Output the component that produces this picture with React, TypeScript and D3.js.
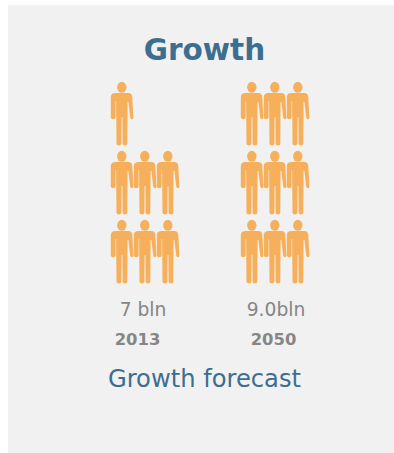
import React from "react";
import * as d3 from "d3";

// Each figure stands for one billion people.
const years = ["2013", "2050"];
const populationBillions = [7, 9];
const valueLabels = ["7 bln", "9.0bln"];
const rowsPerGroup = [0, 1, 2];
const columnsPerRow = [0, 1, 2];

const INK = "#3c6e8f";
const FIGURE = "#f6b05c";
const MUTED = "#868686";
const FONT = "'DejaVu Sans', Verdana, sans-serif";

const WIDTH = 394;
const HEIGHT = 453;

// Person silhouette in a 23 x 64 box, origin at the top left.
const personBody =
  "M4.5 11 L17.5 11 Q21 11 21.3 15 L22.4 35.5 Q22.4 37.2 21 37.2 Q19.4 37.2 19.2 35.5 L17.4 20 L16.6 20 L16.3 61.8 Q16.2 63.6 13.8 63.6 Q11.7 63.6 11.6 61.8 L11.4 35 L10.6 35 L10.4 61.8 Q10.3 63.6 8 63.6 Q5.6 63.6 5.5 61.8 L5.1 19 L4.6 19 L4.6 35.5 Q4.5 37.2 2.2 37.2 Q-0.1 37.2 -0.2 35.5 L-0.2 15 Q0 11 4.5 11 Z";

function Person({ x, y }: { x: number; y: number }) {
  return (
    <g transform={`translate(${x},${y})`} fill={FIGURE}>
      <ellipse cx={10.8} cy={5.3} rx={4.7} ry={5.5} />
      <path d={personBody} />
    </g>
  );
}

export default function App() {
  const groupX = d3.scalePoint<string>().domain(years).range([111, 241]);
  const columnX = d3.scaleLinear().domain([0, 1]).range([0, 23]);
  const rowY = d3.scaleLinear().domain([0, 1]).range([220, 151]);
  const labelX = d3.scalePoint<string>().domain(years).range([143, 276]);
  const yearX = d3.scalePoint<string>().domain(years).range([137.5, 273.5]);

  return (
    <svg
      width={WIDTH}
      height={HEIGHT}
      style={{ position: "absolute", left: 0, top: 0, display: "block" }}
      fontFamily={FONT}
    >
      <rect x={8} y={5} width={386} height={448} fill="#f1f1f1" />
      <text x={204.5} y={60} textAnchor="middle" fontSize={29.5} fontWeight="bold" fill={INK}>
        Growth
      </text>
      {years.map((year, g) => {
        const cells = rowsPerGroup
          .flatMap((row) => columnsPerRow.map((col) => ({ row, col })))
          .slice(0, populationBillions[g]);
        return (
          <g key={year}>
            {cells.map(({ row, col }) => (
              <Person
                key={`${row}-${col}`}
                x={(groupX(year) as number) + columnX(col)}
                y={rowY(row)}
              />
            ))}
            <text
              x={labelX(year)}
              y={316}
              textAnchor="middle"
              fontSize={18.7}
              fill={MUTED}
            >
              {valueLabels[g]}
            </text>
            <text
              x={yearX(year)}
              y={345}
              textAnchor="middle"
              fontSize={16.4}
              fontWeight="bold"
              fill={MUTED}
            >
              {year}
            </text>
          </g>
        );
      })}
      <text x={204.5} y={387} textAnchor="middle" fontSize={24.2} fill={INK}>
        Growth forecast
      </text>
    </svg>
  );
}
